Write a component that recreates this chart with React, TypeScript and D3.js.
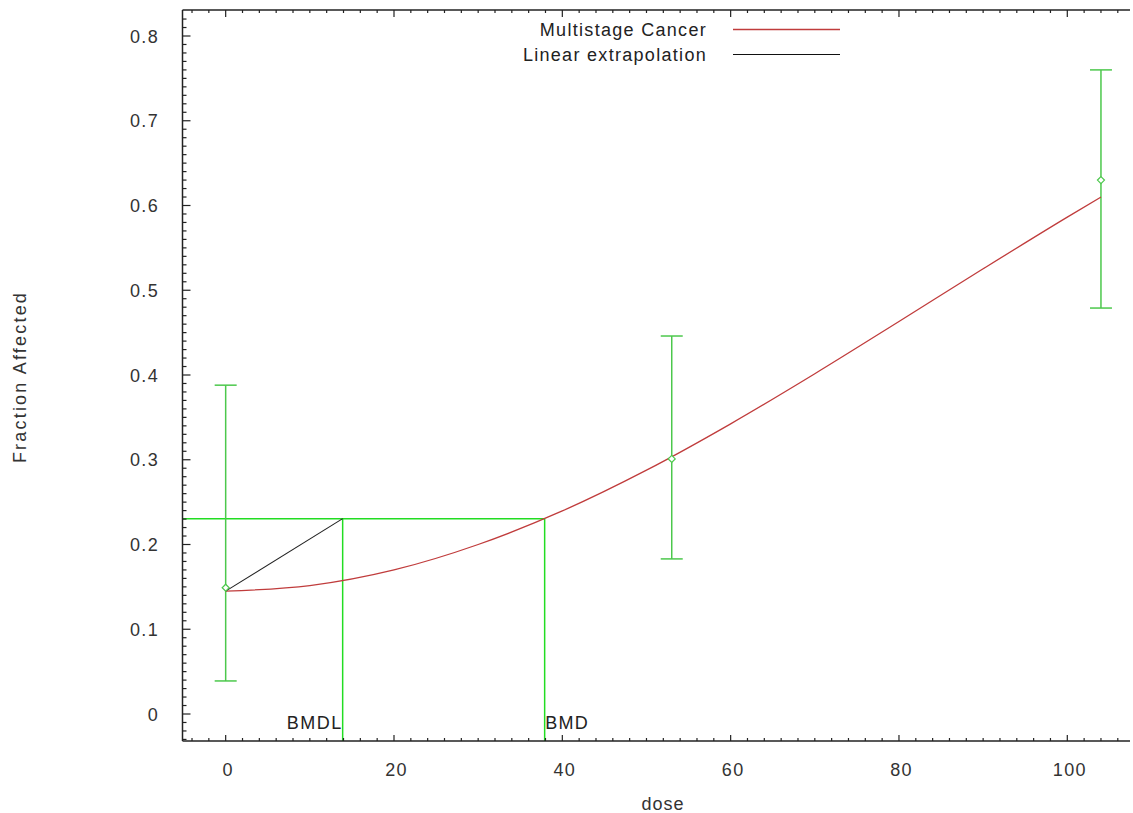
import React from "react";
import * as d3 from "d3";

const doses = [0, 53, 104];
const fractions = [0.149, 0.301, 0.63];
const lowerCI = [0.039, 0.183, 0.479];
const upperCI = [0.388, 0.446, 0.76];

const curveDoses = [0, 10, 20, 30, 40, 50, 60, 70, 80, 90, 100, 104];
const curveFractions = [0.145, 0.1515, 0.170, 0.200, 0.2396, 0.2877, 0.3424, 0.4015, 0.4631, 0.5253, 0.5863, 0.61];

const bmdl = 13.9;
const bmd = 37.9;
const bmrLevel = 0.2305;
const background = 0.145;

const xTickValues = [0, 20, 40, 60, 80, 100];
const yTickValues = [0, 0.1, 0.2, 0.3, 0.4, 0.5, 0.6, 0.7, 0.8];
const legendLabels = ["Multistage Cancer", "Linear extrapolation"];

const W = 1133;
const H = 813;
const LEFT = 182.5;
const RIGHT = 1130;
const TOP = 10;
const BOTTOM = 741;

export default function App() {
  const x = d3.scaleLinear().domain([-5.13, 107.45]).range([LEFT, RIGHT]);
  const y = d3.scaleLinear().domain([0, 0.8]).range([714, 36]);

  const xMinor = d3.range(-4, 108, 2).filter((v) => x(v) > LEFT + 1 && x(v) < RIGHT);
  const yMinor = d3.range(-0.03, 0.835, 0.01).map((v) => Math.round(v * 100) / 100).filter((v) => y(v) < BOTTOM - 1 && y(v) > TOP + 1);

  const curvePts: [number, number][] = curveDoses.map((d, i) => [x(d), y(curveFractions[i])]);
  const line = d3.line().curve(d3.curveMonotoneX);
  const curvePath = line(curvePts) || "";

  const font = "'Liberation Sans', Arial, sans-serif";
  const textColor = "#333";
  const green = "#22dd22";
  const errGreen = "#4cc84c";
  const red = "#c03c3c";
  const ls = 1.3;

  const isMajorX = (v: number) => Math.abs(v % 20) < 1e-6;
  const isMajorY = (v: number) => Math.abs(Math.round(v * 100) % 10) === 0;

  return (
    <svg width={W} height={H} style={{ position: "absolute", left: 0, top: 0, background: "#fff" }} fontFamily={font}>
      {/* green BMD lines */}
      <line x1={LEFT} x2={x(bmd)} y1={y(bmrLevel)} y2={y(bmrLevel)} stroke={green} strokeWidth={1.5} />
      <line x1={x(bmdl)} x2={x(bmdl)} y1={y(bmrLevel)} y2={BOTTOM} stroke={green} strokeWidth={1.5} />
      <line x1={x(bmd)} x2={x(bmd)} y1={y(bmrLevel)} y2={BOTTOM} stroke={green} strokeWidth={1.5} />

      {/* error bars */}
      {doses.map((d, i) => (
        <g key={"e" + i}>
          <line x1={x(d)} x2={x(d)} y1={y(upperCI[i])} y2={y(lowerCI[i])} stroke={errGreen} strokeWidth={1.5} />
          <line x1={x(d) - 11} x2={x(d) + 11} y1={y(upperCI[i])} y2={y(upperCI[i])} stroke={errGreen} strokeWidth={1.5} />
          <line x1={x(d) - 11} x2={x(d) + 11} y1={y(lowerCI[i])} y2={y(lowerCI[i])} stroke={errGreen} strokeWidth={1.5} />
        </g>
      ))}

      {/* model curve */}
      <path d={curvePath} fill="none" stroke={red} strokeWidth={1.3} />
      {/* linear extrapolation */}
      <line x1={x(0)} y1={y(background)} x2={x(bmdl)} y2={y(bmrLevel)} stroke="#222" strokeWidth={1.1} />

      {/* data points */}
      {doses.map((d, i) => (
        <path
          key={"p" + i}
          d={`M${x(d)},${y(fractions[i]) - 3.5}L${x(d) + 3.5},${y(fractions[i])}L${x(d)},${y(fractions[i]) + 3.5}L${x(d) - 3.5},${y(fractions[i])}Z`}
          fill="#fff"
          stroke={errGreen}
          strokeWidth={1.2}
        />
      ))}

      {/* BMD labels */}
      <text x={x(bmdl)} y={729} textAnchor="end" fontSize={18} fill="#222" letterSpacing={1.5}>BMDL</text>
      <text x={x(bmd) + 0.5} y={729} textAnchor="start" fontSize={18} fill="#222" letterSpacing={1.3}>BMD</text>

      {/* axes frame */}
      <line x1={LEFT} x2={LEFT} y1={TOP} y2={BOTTOM} stroke="#222" strokeWidth={1.5} />
      <line x1={LEFT} x2={RIGHT} y1={TOP} y2={TOP} stroke="#222" strokeWidth={1.5} />
      <line x1={LEFT} x2={RIGHT} y1={BOTTOM} y2={BOTTOM} stroke="#222" strokeWidth={1.5} />

      {/* x ticks */}
      {xMinor.map((v) => {
        const major = isMajorX(v);
        return (
          <g key={"xt" + v}>
            <line x1={x(v)} x2={x(v)} y1={TOP} y2={TOP + (major ? 7 : 3)} stroke="#222" strokeWidth={1.2} />
            <line x1={x(v)} x2={x(v)} y1={BOTTOM} y2={BOTTOM - (major ? 6 : 3)} stroke="#222" strokeWidth={1.2} />
          </g>
        );
      })}
      {/* y ticks */}
      {yMinor.map((v) => {
        const major = isMajorY(v);
        return <line key={"yt" + v} x1={LEFT} x2={LEFT + (major ? 8 : 4)} y1={y(v)} y2={y(v)} stroke="#222" strokeWidth={1.2} />;
      })}

      {/* tick labels */}
      {xTickValues.map((v) => (
        <text key={"xl" + v} x={x(v) + 2.5} y={776} textAnchor="middle" fontSize={18} fill={textColor} letterSpacing={ls}>{v}</text>
      ))}
      {yTickValues.map((v) => (
        <text key={"yl" + v} x={159} y={y(v) + 6.5} textAnchor="end" fontSize={18} fill={textColor} letterSpacing={ls}>{v === 0 ? "0" : v.toFixed(1)}</text>
      ))}

      {/* axis titles */}
      <text x={663} y={810} textAnchor="middle" fontSize={18} fill={textColor} letterSpacing={1}>dose</text>
      <text transform={`translate(26,377) rotate(-90)`} textAnchor="middle" fontSize={18} fill={textColor} letterSpacing={2.2}>Fraction Affected</text>

      {/* legend */}
      <text x={707} y={36} textAnchor="end" fontSize={18} fill="#222" letterSpacing={ls}>{legendLabels[0]}</text>
      <line x1={733} x2={840} y1={29.5} y2={29.5} stroke={red} strokeWidth={1.3} />
      <text x={707} y={61} textAnchor="end" fontSize={18} fill="#222" letterSpacing={ls}>{legendLabels[1]}</text>
      <line x1={733} x2={840} y1={54.5} y2={54.5} stroke="#111" strokeWidth={1.1} />
    </svg>
  );
}
